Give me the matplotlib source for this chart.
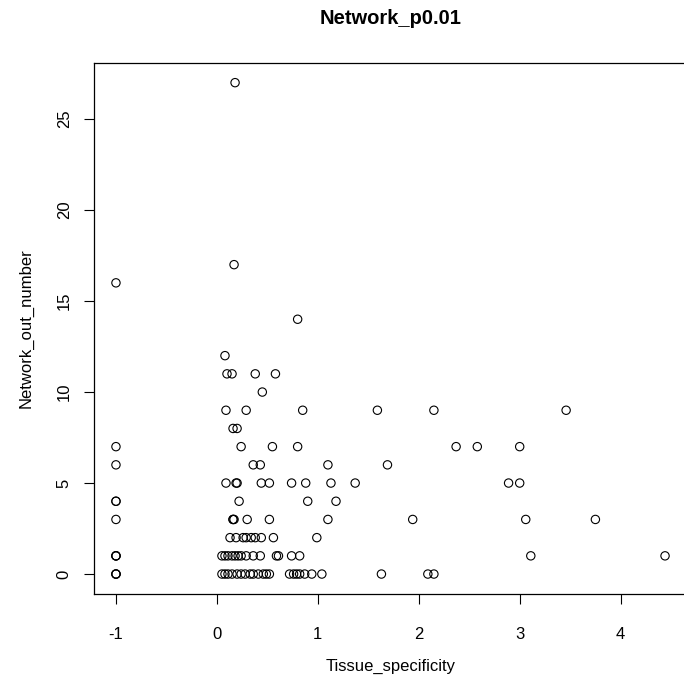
import matplotlib
matplotlib.use("Agg")
import matplotlib.pyplot as plt
import numpy as np

plt.rcParams['font.family'] = ['Liberation Sans', 'DejaVu Sans']

# Data (x = Tissue_specificity, y = Network_out_number)
x_neg = [-1, -1, -1, -1, -1, -1, -1, -1, -1, -1, -1, -1]
y_neg = [16, 7, 6, 4, 4, 3, 1, 1, 1, 0, 0, 0]

x_hi = [0.18, 0.17, 0.80, 0.08, 0.10, 0.15, 0.38, 0.58, 0.45,
        0.09, 0.29, 0.85, 1.59, 2.15, 3.46, 0.16, 0.20,
        0.24, 0.55, 0.80, 2.37, 2.58, 3.00, 0.36, 0.43, 1.10, 1.69]
y_hi = [27, 17, 14, 12, 11, 11, 11, 11, 10,
        9, 9, 9, 9, 9, 9, 8, 8,
        7, 7, 7, 7, 7, 7, 6, 6, 6, 6]

x_mid = [0.09, 0.19, 0.20, 0.44, 0.52, 0.74, 0.88, 1.13, 1.37, 2.89, 3.00,
         0.22, 0.90, 1.18,
         0.16, 0.16, 0.17, 0.30, 0.52, 1.10, 1.94, 3.06, 3.75,
         0.13, 0.19, 0.26, 0.29, 0.34, 0.38, 0.44, 0.56, 0.99]
y_mid = [5, 5, 5, 5, 5, 5, 5, 5, 5, 5, 5,
         4, 4, 4,
         3, 3, 3, 3, 3, 3, 3, 3, 3,
         2, 2, 2, 2, 2, 2, 2, 2, 2]

x_low = [0.05, 0.08, 0.11, 0.15, 0.18, 0.21, 0.24, 0.29, 0.36, 0.43, 0.59, 0.61, 0.74, 0.82,
         3.11, 4.44,
         0.05, 0.08, 0.11, 0.15, 0.20, 0.24, 0.28, 0.33, 0.36, 0.41, 0.46, 0.49, 0.52,
         0.72, 0.76, 0.79, 0.82, 0.87, 0.94, 1.04, 1.63, 2.09, 2.15]
y_low = [1] * 16 + [0] * 23

x_all = np.array(x_neg + x_hi + x_mid + x_low)
y_all = np.array(y_neg + y_hi + y_mid + y_low)

xticks = [-1, 0, 1, 2, 3, 4]
yticks = [0, 5, 10, 15, 20, 25]

fig = plt.figure(figsize=(6.84, 6.81), dpi=100)
ax = fig.add_axes([94 / 684, 1 - 593.7 / 681, (687 - 94) / 684, (593.7 - 63) / 681])

ax.scatter(x_all, y_all, s=36, facecolors='none', edgecolors='black', linewidths=0.8)

xr = x_all.max() - x_all.min()
yr = y_all.max() - y_all.min()
ax.set_xlim(x_all.min() - 0.04 * xr, x_all.max() + 0.04 * xr)
ax.set_ylim(y_all.min() - 0.04 * yr, y_all.max() + 0.04 * yr)

ax.set_xticks(xticks)
ax.set_yticks(yticks)
ax.set_xticklabels([str(t) for t in xticks], fontsize=12)
ax.set_yticklabels([str(t) for t in yticks], fontsize=12, rotation=90, va='center')
ax.tick_params(direction='out', length=7, width=0.8, pad=17)
ax.tick_params(axis='y', pad=9)
for s in ax.spines.values():
    s.set_linewidth(0.9)

ax.set_xlabel('Tissue_specificity', fontsize=12, labelpad=12)
ax.set_ylabel('Network_out_number', fontsize=12, labelpad=17)
fig.text((94 + 687) / 2 / 684, 1 - 19 / 681, 'Network_p0.01', ha='center', va='center',
         fontsize=14.5, fontweight='bold')

fig.savefig('out.png', dpi=100)
